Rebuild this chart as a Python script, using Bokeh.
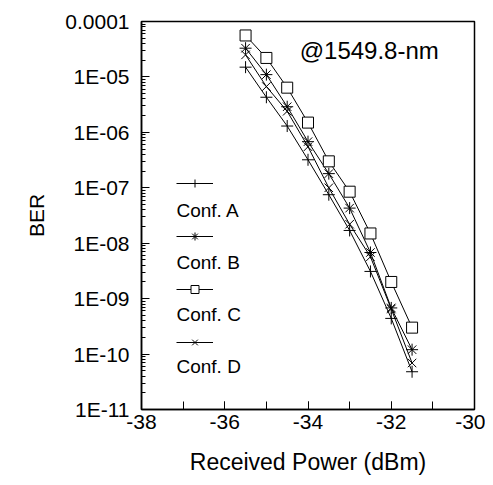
from bokeh.plotting import figure
from bokeh.models import (Range1d, SingleIntervalTicker, LogTicker, CustomJSTickFormatter,
                          Legend, LegendItem, Label)
from bokeh.embed import file_html
from bokeh.resources import INLINE

# ---- data ----
power = [-35.5, -35.0, -34.5, -34.0, -33.5, -33.0, -32.5, -32.0, -31.5]
ber_a = [1.5e-5, 4.3e-6, 1.3e-6, 3.2e-7, 7.5e-8, 1.7e-8, 3.1e-9, 4.4e-10, 4.8e-11]
ber_b = [3.3e-5, 1.1e-5, 2.9e-6, 6.8e-7, 1.8e-7, 4.3e-8, 6.8e-9, 6.8e-10, 1.2e-10]
ber_c = [5.6e-5, 2.2e-5, 6.4e-6, 1.5e-6, 3.0e-7, 8.5e-8, 1.5e-8, 2.0e-9, 3.0e-10]
ber_d = [2.5e-5, 6.7e-6, 2.4e-6, 5.5e-7, 1.0e-7, 2.2e-8, 5.7e-9, 6.5e-10, 6.9e-11]
series_names = ["Conf. A", "Conf. B", "Conf. C", "Conf. D"]
series_markers = ["cross", "asterisk", "square", "x"]
y_tick_values = [1e-11, 1e-10, 1e-9, 1e-8, 1e-7, 1e-6, 1e-5, 1e-4]
y_tick_labels = ["1E-11", "1E-10", "1E-09", "1E-08", "1E-07", "1E-06", "1E-05", "0.0001"]
annotation = "@1549.8-nm"

FONT = "Liberation Sans"

p = figure(width=485, height=477, y_axis_type="log",
           x_range=Range1d(-38, -30), y_range=Range1d(1e-11, 1e-4),
           output_backend="svg", toolbar_location=None,
           min_border_left=141, min_border_right=11, min_border_top=21, min_border_bottom=62)

p.xgrid.visible = False
p.ygrid.visible = False
p.outline_line_color = "black"
p.outline_line_width = 1.5
p.background_fill_color = "white"
p.border_fill_color = "white"

# axes
xa = p.xaxis[0]
xa.ticker = SingleIntervalTicker(interval=2, num_minor_ticks=2)
xa.formatter = CustomJSTickFormatter(code="return tick.toFixed(0);")
xa.axis_label = "Received Power (dBm)"
ya = p.yaxis[0]
ya.ticker = LogTicker(desired_num_ticks=8, num_minor_ticks=10)
ya.formatter = CustomJSTickFormatter(args=dict(vals=y_tick_values, labs=y_tick_labels), code="""
    const e = Math.round(Math.log10(tick));
    for (let i = 0; i < vals.length; i++) {
        if (Math.round(Math.log10(vals[i])) == e) return labs[i];
    }
    return '';
""")
ya.axis_label = "BER"
for ax in (xa, ya):
    ax.axis_line_color = "black"
    ax.axis_line_width = 1.5
    ax.major_tick_in = 8
    ax.major_tick_out = 0
    ax.major_tick_line_color = "black"
    ax.minor_tick_line_color = "black"
    ax.major_label_text_font = FONT
    ax.major_label_text_font_size = "21px"
    ax.major_label_text_color = "black"
    ax.axis_label_text_font = FONT
    ax.axis_label_text_font_style = "normal"
    ax.axis_label_text_color = "black"
xa.minor_tick_in = 8
xa.minor_tick_out = 0
ya.minor_tick_in = 4
ya.minor_tick_out = 0
xa.major_label_standoff = 5
ya.major_label_standoff = 12
xa.axis_label_text_font_size = "23px"
ya.axis_label_text_font_size = "21px"
xa.axis_label_standoff = 17
ya.axis_label_standoff = 14

# series
items = []
for name, ys, mk in zip(series_names, [ber_a, ber_b, ber_c, ber_d], series_markers):
    r1 = p.line(power, ys, line_color="black", line_width=1)
    r2 = p.scatter(power, ys, marker=mk, size=12 if mk != "square" else 11,
                   line_color="black", line_width=1, fill_color="white")
    items.append(LegendItem(label=" ", renderers=[r1, r2]))

legend = Legend(items=items, location=(35, 57), orientation="vertical",
                glyph_width=37, glyph_height=20, label_height=20, label_width=1,
                label_standoff=0, spacing=33, padding=0, margin=0,
                background_fill_alpha=0, border_line_alpha=0,
                label_text_font_size="1px")
p.add_layout(legend, "center")

# legend texts
for i, name in enumerate(series_names):
    p.add_layout(Label(x=-37.16, y=10 ** (-7.41 - 0.94 * i), text=name,
                       text_font=FONT, text_font_size="19px", text_color="black",
                       text_baseline="middle", text_align="left"))

p.add_layout(Label(x=-34.2, y=10 ** (-4.52), text=annotation,
                   text_font=FONT, text_font_size="24px", text_color="black",
                   text_baseline="middle", text_align="left"))

open("out.html", "w").write(file_html(p, INLINE))
